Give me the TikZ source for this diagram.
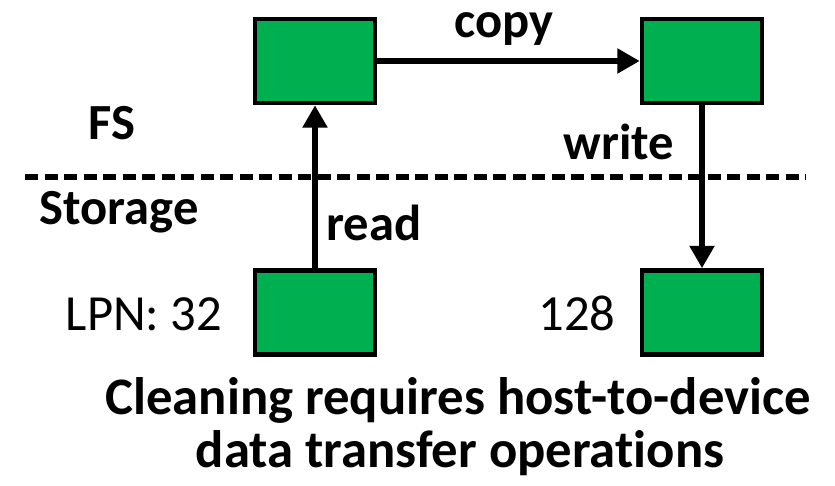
\documentclass[tikz,border=0pt]{standalone}
\usepackage{fontspec}
\setmainfont{Carlito}[Ligatures=NoCommon]
\usetikzlibrary{arrows.meta}

\definecolor{blockgreen}{HTML}{00B050}

\tikzset{
  block/.style={draw=black, line width=3.2pt, fill=blockgreen,
    minimum width=3cm, minimum height=2.1cm, inner sep=0pt},
  flow/.style={line width=4.2pt, -{Triangle[length=16pt,width=17pt]}},
  lbl/.style={anchor=base, font=\fontsize{36}{43}\selectfont\bfseries, inner sep=0pt},
  lpn/.style={anchor=base, font=\fontsize{36}{43}\selectfont, inner sep=0pt},
  caption/.style={anchor=base, font=\fontsize{37.5}{45}\selectfont\bfseries, inner sep=0pt}
}

\begin{document}
\begin{tikzpicture}
        \useasboundingbox (0,0) rectangle (20.875,12.125);

        % file system side
        \node[block] (fsold) at (7.875,10.6) {};
        \node[block] (fsnew) at (17.55,10.6) {};

        % storage side
        \node[block] (lpnold) at (7.875,4.3125) {};
        \node[block] (lpnnew) at (17.55,4.3125) {};

        % layer boundary
        \coordinate (sepl) at (0.625,7.7);
        \coordinate (sepr) at (20.15,7.7);
        \draw[line width=4pt, dash pattern=on 0.325cm off 0.1625cm] (sepl) -- (sepr);

        \draw[flow] (lpnold) -- (fsold);
        \draw[flow] (fsold) -- (fsnew);
        \draw[flow] (fsnew) -- (lpnnew);

        \node[lbl] (copy) at (12.6,11.175) {copy};
        \node[lbl] (write) at (15.475,8.125) {write};
        \node[lbl] (read) at (9.35,6.1) {read};
        \node[lbl] (fs) at (2.8,8.625) {FS};
        \node[lbl] (storage) at (2.975,6.5) {Storage};
        \node[lpn] (lpn32) at (3.6,3.85) {LPN: 32};
        \node[lpn] (lpn128) at (14.425,3.85) {128};

        \node[caption] (cap1) at (11.45,1.75) {Cleaning requires host-to-device};
        \node[caption] (cap2) at (11.5,0.45) {data transfer operations};
\end{tikzpicture}
\end{document}
